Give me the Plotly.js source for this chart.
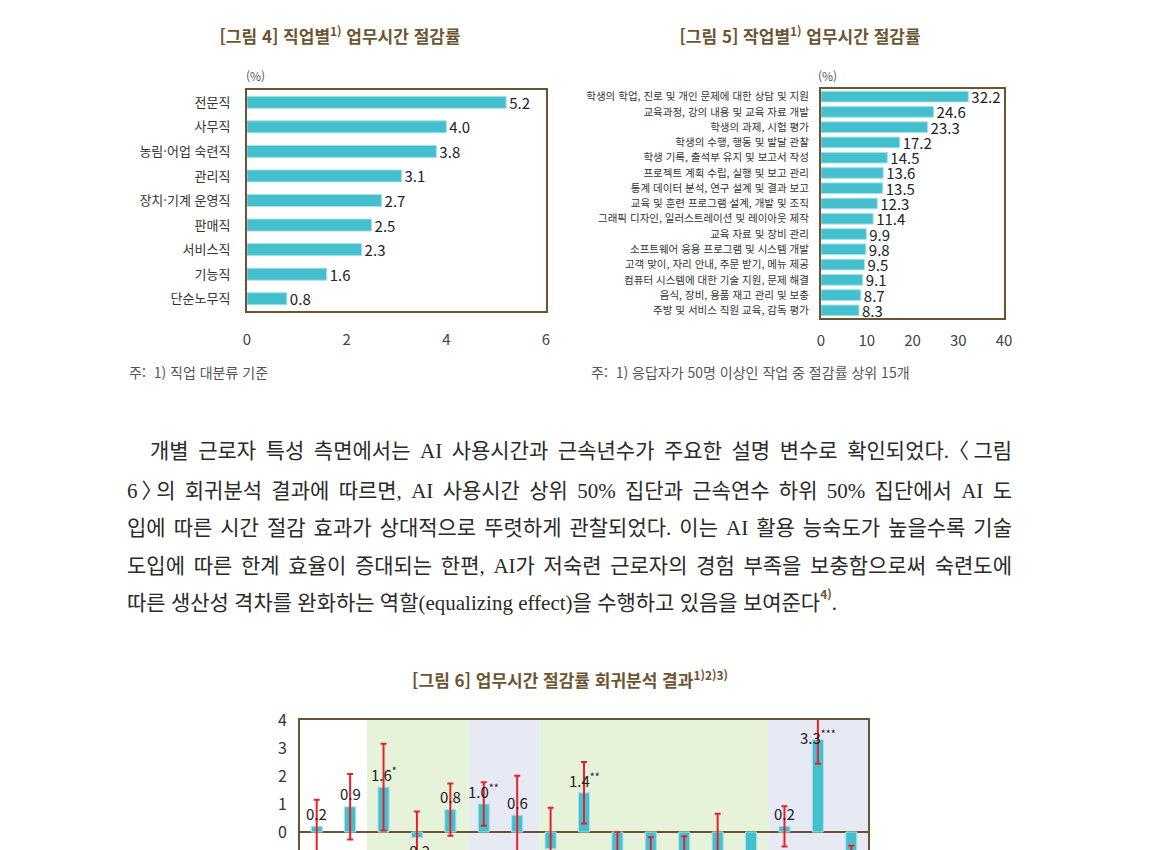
<!DOCTYPE html>
<html lang="ko">
<head>
<meta charset="utf-8">
<script src="https://cdn.plot.ly/plotly-3.0.1.min.js"></script>
<style>
  html, body { margin: 0; padding: 0; background: #fff; width: 1150px; height: 850px; overflow: hidden; }
  .chart { position: absolute; }
  #fig4 { left: 100px; top: 0; width: 470px; height: 400px; }
  #fig5 { left: 575px; top: 0; width: 460px; height: 400px; }
  #fig6 { left: 240px; top: 650px; width: 660px; height: 324px; }
  #para { position: absolute; left: 127px; top: 431px; width: 885px;
          font-family: "Liberation Serif", "Noto Sans CJK KR", serif;
          font-size: 21px; line-height: 37.5px; color: #2a2a2a; }
  #para .ln { text-align: justify; text-align-last: justify; white-space: nowrap; }
  #para .ln.first { text-indent: 23px; }
  #para .ln.last { text-align: left; text-align-last: left; }
  #para .br { font-family: "Noto Sans CJK KR", sans-serif; font-feature-settings: "halt"; }
  #para sup { color: #6d5431; font-weight: bold; font-size: 12px; line-height: 0;
              position: relative; top: -3px; font-family: "Noto Sans CJK KR", sans-serif; }
</style>
</head>
<body>
<div id="fig4" class="chart"></div>
<div id="fig5" class="chart"></div>
<div id="para">
  <div class="ln first">개별 근로자 특성 측면에서는 AI 사용시간과 근속년수가 주요한 설명 변수로 확인되었다. <span class="br">〈</span>그림</div>
  <div class="ln">6<span class="br">〉</span>의 회귀분석 결과에 따르면, AI 사용시간 상위 50% 집단과 근속연수 하위 50% 집단에서 AI 도</div>
  <div class="ln">입에 따른 시간 절감 효과가 상대적으로 뚜렷하게 관찰되었다. 이는 AI 활용 능숙도가 높을수록 기술</div>
  <div class="ln">도입에 따른 한계 효율이 증대되는 한편, AI가 저숙련 근로자의 경험 부족을 보충함으로써 숙련도에</div>
  <div class="ln last">따른 생산성 격차를 완화하는 역할(equalizing effect)을 수행하고 있음을 보여준다<sup>4)</sup>.</div>
</div>
<div id="fig6" class="chart"></div>
<script>
// data
const fig4Cats = ['전문직', '사무직', '농림·어업 숙련직', '관리직', '장치·기계 운영직', '판매직', '서비스직', '기능직', '단순노무직'];
const fig4Vals = [5.2, 4.0, 3.8, 3.1, 2.7, 2.5, 2.3, 1.6, 0.8];

const fig5Cats = [
  '학생의 학업, 진로 및 개인 문제에 대한 상담 및 지원',
  '교육과정, 강의 내용 및 교육 자료 개발',
  '학생의 과제, 시험 평가',
  '학생의 수행, 행동 및 발달 관찰',
  '학생 기록, 출석부 유지 및 보고서 작성',
  '프로젝트 계획 수립, 실행 및 보고 관리',
  '통계 데이터 분석, 연구 설계 및 결과 보고',
  '교육 및 훈련 프로그램 설계, 개발 및 조직',
  '그래픽 디자인, 일러스트레이션 및 레이아웃 제작',
  '교육 자료 및 장비 관리',
  '소프트웨어 응용 프로그램 및 시스템 개발',
  '고객 맞이, 자리 안내, 주문 받기, 메뉴 제공',
  '컴퓨터 시스템에 대한 기술 지원, 문제 해결',
  '음식, 장비, 용품 재고 관리 및 보충',
  '주방 및 서비스 직원 교육, 감독 평가'
];
const fig5Vals = [32.2, 24.6, 23.3, 17.2, 14.5, 13.6, 13.5, 12.3, 11.4, 9.9, 9.8, 9.5, 9.1, 8.7, 8.3];

// figure 6: only the top part is visible, lower values are estimates
const fig6Cats = ['v1', 'v2', 'v3', 'v4', 'v5', 'v6', 'v7', 'v8', 'v9', 'v10', 'v11', 'v12', 'v13', 'v14', 'v15', 'v16', 'v17'];
const fig6Vals = [0.2, 0.9, 1.6, -0.2, 0.8, 1.0, 0.6, -0.6, 1.4, -1.0, -1.1, -0.9, -0.7, -1.5, 0.2, 3.3, -1.3];
const fig6Err  = [0.95, 1.17, 1.55, 0.93, 0.93, 0.78, 1.41, 1.47, 1.1, 1.0, 0.91, 0.75, 1.35, 0.8, 0.72, 0.86, 0.81];
const fig6Sig  = ['', '', '*', '', '', '**', '', '', '**', '', '', '', '', '', '', '***', ''];
const fig6Ticks = [0, 1, 2, 3, 4];

const TEAL = '#43bfce';
const EDGE = '#a8e0e8';
const BROWN = '#6d5431';
const KFONT = '"Noto Sans CJK KR", sans-serif';
const CFG = { displayModeBar: false, staticPlot: true };
const Y6MAX = 4, PX_PER_UNIT = 28;

function frameAxis(extra) {
  return Object.assign({
    showline: true, mirror: true, linecolor: BROWN, linewidth: 2,
    showgrid: false, zeroline: false, fixedrange: true
  }, extra);
}

function hbarLayout(opts) {
  return {
    width: opts.w, height: opts.h,
    margin: opts.margin,
    paper_bgcolor: 'rgba(0,0,0,0)', plot_bgcolor: '#fff',
    showlegend: false,
    font: { family: KFONT, color: '#333' },
    title: {
      text: opts.title, x: opts.titleX, xref: 'container', xanchor: 'center',
      y: 1 - 37 / opts.h, yref: 'container', yanchor: 'middle',
      font: { family: KFONT, size: 17, color: BROWN, weight: 700 }
    },
    xaxis: frameAxis({
      range: opts.xrange, dtick: opts.dtick, ticks: 'outside', ticklen: opts.ticklen,
      tickcolor: 'rgba(0,0,0,0)', tickfont: { size: 15, color: '#444' }
    }),
    yaxis: frameAxis({
      autorange: 'reversed', ticks: '', tickfont: { size: opts.catSize, color: '#333' },
      ticklabelstandoff: opts.standoff
    }),
    annotations: [
      { text: '(%)', xref: 'paper', yref: 'paper', x: opts.pctX, y: opts.pctY,
        showarrow: false, xanchor: 'center', yanchor: 'middle', font: { size: 12, color: '#555' } },
      { text: opts.note, xref: 'paper', yref: 'paper', x: opts.noteX, y: opts.noteY,
        showarrow: false, xanchor: 'left', yanchor: 'middle', font: { size: 14, color: '#555' } }
    ]
  };
}

// [그림 4]
Plotly.newPlot('fig4', [{
  type: 'bar', orientation: 'h', x: fig4Vals, y: fig4Cats, width: 0.49,
  marker: { color: TEAL, line: { color: EDGE, width: 1 } },
  text: fig4Vals.map(v => v.toFixed(1)), textposition: 'outside', cliponaxis: false,
  constraintext: 'none', textfont: { size: 15, color: '#222' }
}], hbarLayout({
  w: 470, h: 400, margin: { l: 147, r: 24, t: 90, b: 89 },
  title: '[그림 4] 직업별<sup>1)</sup> 업무시간 절감률', titleX: 240 / 470,
  xrange: [0, 6], dtick: 2, ticklen: 14, catSize: 13, standoff: 12,
  pctX: 0.03, pctY: 1.065,
  note: '주:  1) 직업 대분류 기준', noteX: -0.40, noteY: -0.276
}), CFG);

// [그림 5]
Plotly.newPlot('fig5', [{
  type: 'bar', orientation: 'h', x: fig5Vals, y: fig5Cats, width: 0.7,
  marker: { color: TEAL, line: { color: EDGE, width: 1 } },
  text: fig5Vals.map(v => v.toFixed(1)), textposition: 'outside', cliponaxis: false,
  constraintext: 'none', textfont: { size: 15, color: '#222' }
}], hbarLayout({
  w: 460, h: 400, margin: { l: 246, r: 31, t: 89, b: 82 },
  title: '[그림 5] 작업별<sup>1)</sup> 업무시간 절감률', titleX: 225 / 460,
  xrange: [0, 40], dtick: 10, ticklen: 8, catSize: 10.5, standoff: 8,
  pctX: 0.035, pctY: 1.06,
  note: '주:  1) 응답자가 50명 이상인 작업 중 절감률 상위 15개', noteX: -1.27, noteY: -0.236
}), CFG);

// [그림 6]
const bands = [
  { x0: 1.5, x1: 4.56, color: '#e6f3da' },
  { x0: 4.56, x1: 6.66, color: '#e7e9f5' },
  { x0: 6.66, x1: 13.51, color: '#e6f3da' },
  { x0: 13.51, x1: 16.5, color: '#e7e9f5' }
];

// labels sit above positive bars, below negative ones; pulled down near the frame top
function labelShift(v) {
  if (v < 0) return -13;
  return Math.min(13, (Y6MAX - v) * PX_PER_UNIT - 17);
}

Plotly.newPlot('fig6', [{
  type: 'bar', x: fig6Cats, y: fig6Vals, width: 0.33,
  marker: { color: TEAL, line: { color: EDGE, width: 1 } },
  error_y: { type: 'data', array: fig6Err, visible: true, color: '#e8202a', thickness: 2, width: 3 }
}], {
  width: 660, height: 324,
  margin: { l: 60, r: 32, t: 70, b: 30 },
  paper_bgcolor: 'rgba(0,0,0,0)', plot_bgcolor: '#fff',
  showlegend: false,
  font: { family: KFONT, color: '#333' },
  title: {
    text: '[그림 6] 업무시간 절감률 회귀분석 결과<sup>1)2)3)</sup>',
    x: 330 / 660, xref: 'container', xanchor: 'center',
    y: 1 - 31 / 324, yref: 'container', yanchor: 'middle',
    font: { family: KFONT, size: 17, color: BROWN, weight: 700 }
  },
  xaxis: frameAxis({ range: [-0.5, 16.5], showticklabels: false, ticks: '' }),
  yaxis: frameAxis({
    range: [-Y6MAX, Y6MAX], tickvals: fig6Ticks, ticks: 'outside', ticklen: 8, tickcolor: 'rgba(0,0,0,0)',
    tickfont: { size: 16, color: '#333' },
    zeroline: true, zerolinecolor: BROWN, zerolinewidth: 1.5
  }),
  shapes: bands.map(b => ({
    type: 'rect', xref: 'x', yref: 'paper', x0: b.x0, x1: b.x1, y0: 0, y1: 1,
    fillcolor: b.color, line: { width: 0 }, layer: 'below'
  })),
  annotations: fig6Vals.map((v, i) => ({
    x: fig6Cats[i], y: v, xref: 'x', yref: 'y', showarrow: false,
    text: v.toFixed(1) + (fig6Sig[i] ? '<sup>' + fig6Sig[i] + '</sup>' : ''),
    yshift: labelShift(v), yanchor: 'middle', xanchor: 'center',
    font: { size: 15, color: '#222' }
  }))
}, CFG);
</script>
</body>
</html>
